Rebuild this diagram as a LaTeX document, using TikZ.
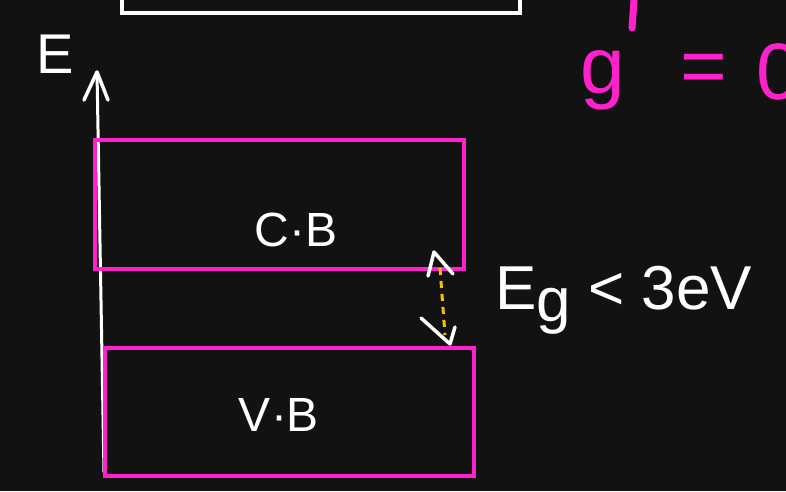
\documentclass[tikz,border=0pt]{standalone}
\usepackage{fontspec}
\setmainfont{Liberation Sans}
\usetikzlibrary{arrows.meta}
\definecolor{bg}{HTML}{121212}
\definecolor{pinkband}{HTML}{FF22CC}
\definecolor{gapyellow}{HTML}{F2C200}
\begin{document}
\begin{tikzpicture}[x=1pt,y=-1pt,
  band/.style={draw=pinkband,line width=4pt},
  chalk/.style={text=white,font=\fontsize{48}{50}\selectfont,inner sep=0pt},
  pinktext/.style={text=pinkband,font=\fontsize{80}{82}\selectfont,inner sep=0pt},
  stroke/.style={white,line width=3.5pt,line cap=round,line join=round}]
\fill[bg] (0,0) rectangle (786,491);
\useasboundingbox (0,0) rectangle (786,491);
\begin{scope}
\clip (0,0) rectangle (786,491);
% top white box (cut off)
\draw[white,line width=3.5pt] (122,-10) rectangle (520,13);
% energy axis
\coordinate (axbot) at (104,472);
\coordinate (axtop) at (97,72);
\draw[stroke,line width=3pt] (axbot) -- (axtop);
\draw[stroke] (84,100) -- (axtop) -- (108,100);
\node[chalk,font=\fontsize{56}{58}\selectfont] (elab) at (55,54) {E};
% bands
\node[band,minimum width=369pt,minimum height=129pt,anchor=north west] (cb) at (93,138) {};
\node[band,minimum width=369pt,minimum height=128pt,anchor=north west] (vb) at (103,346) {};
\node[chalk] (cbl) at (296,230) {C·B};
\node[chalk] (vbl) at (279,415) {V·B};
% band gap arrow
\coordinate (gtop) at (434,252);
\coordinate (gbot) at (450,344);
\draw[gapyellow,line width=3pt,dash pattern=on 7pt off 6pt] (440,268) -- (445,335);
\draw[stroke] (428,276) -- (gtop) -- (453,274);
\draw[stroke] (421,318) -- (gbot) -- (455,327);
\node[chalk,font=\fontsize{62}{64}\selectfont,anchor=west] (eg) at (495,300) {E\raisebox{-12pt}{g} < 3eV};
% pink top-right text (cut off)
\node[pinktext] (pkg) at (603,80) {g};
\node[pinktext] (pkeq) at (704,74) {=};
\node[pinktext,anchor=west] (pk0) at (756,72) {0};
\draw[pinkband,line width=7pt,line cap=round] (634,0) -- (632,28);
\end{scope}
\end{tikzpicture}
\end{document}
